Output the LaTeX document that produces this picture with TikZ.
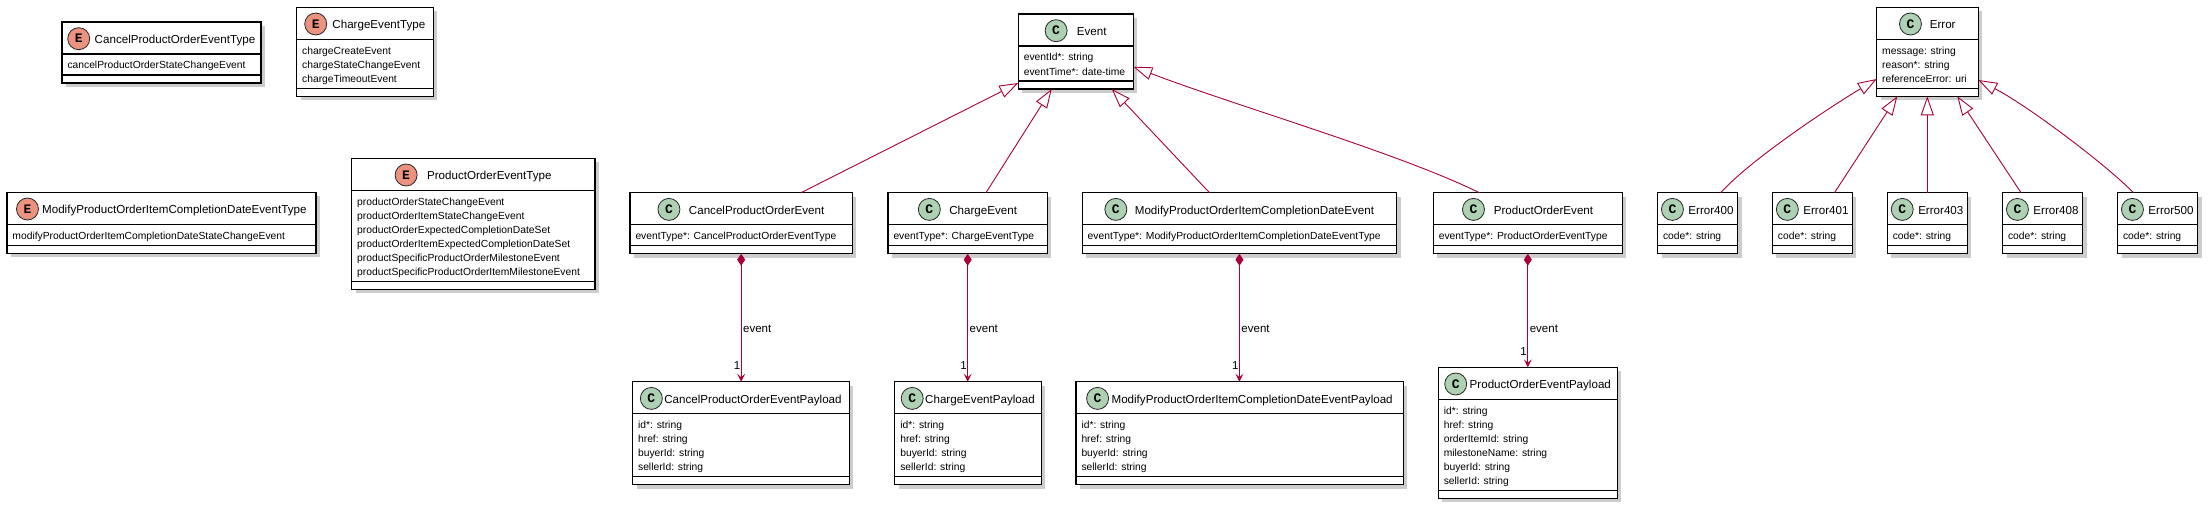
\documentclass[tikz,border=0pt]{standalone}
\usepackage{fontspec}
\setmainfont{Liberation Sans}
\newfontfamily\iconfont{Liberation Mono}
\usetikzlibrary{arrows.meta,calc}
\definecolor{umlred}{HTML}{A80036}
\definecolor{cgreen}{HTML}{ADD1B2}
\definecolor{esalmon}{HTML}{EB937F}
\tikzset{
  cls/.style={rectangle, draw=black, line width=1.2pt, fill=white, inner sep=0pt, outer sep=0pt},
  sepline/.style={draw=black, line width=1.2pt},
  shadebox/.style={fill=black, opacity=0.2},
  ttl/.style={font=\fontsize{11.6}{14}\selectfont, inner sep=0pt, outer sep=0pt},
  attr/.style={font=\fontsize{10.3}{14}\selectfont, inner sep=0pt, outer sep=0pt, anchor=base west},
  iconbase/.style={circle, draw=black!85, line width=0.8pt, minimum size=22pt, inner sep=0pt,
    font=\iconfont\bfseries\fontsize{13}{13}\selectfont},
  iconC/.style={iconbase, fill=cgreen},
  iconE/.style={iconbase, fill=esalmon},
  gen/.style={draw=umlred, line width=0.9pt, -{Triangle[length=19pt,width=13pt,fill=white]}},
  comp/.style={draw=umlred, line width=0.9pt,
    {Diamond[length=12pt,width=8pt,fill=umlred]}-{Stealth[length=8pt,width=8pt,inset=3.5pt]}},
  elabel/.style={font=\fontsize{11.5}{14}\selectfont, inner sep=0pt, outer sep=0pt, text=black},
}
% #1 name, #2 x, #3 y, #4 width, #5 number of attributes, #6 kind (C/E), #7 title, #8 attributes, #9 icon gap
\newcommand{\umlbox}[9]{%
  \pgfmathsetmacro{\bh}{47+14*#5}%
  \fill[shadebox] (#2+4,#3+4) rectangle ++(#4,\bh);
  \node[cls, anchor=north west, minimum width=#4pt, minimum height=\bh pt] (#1) at (#2,#3) {};
  \draw[sepline] ([yshift=-32pt]#1.north west) -- ([yshift=-32pt]#1.north east);
  \draw[sepline] ([yshift=8pt]#1.south west) -- ([yshift=8pt]#1.south east);
  \node[ttl, anchor=base] (#1-t) at ([xshift={(#9+11)/2*1pt}, yshift=-21.3pt]#1.north) {#7};
  \node[icon#6] (#1-i) at ([xshift=-#9pt, yshift=4.6pt]#1-t.base west) {#6};
  \foreach \x [count=\i from 0] in {#8} {
    \node[attr] at ([xshift=5.5pt, yshift={-(47+14*\i)*1pt}]#1.north west) {\x};
  }
}
\begin{document}
\begin{tikzpicture}[x=1pt, y=-1pt]
\useasboundingbox (0,0) rectangle (2210,511);
% enumerations
\umlbox{cpet}{62}{22}{199}{1}{E}{CancelProductOrderEventType}{cancelProductOrderStateChangeEvent}{16}
\umlbox{cht}{296.7}{7.3}{136.6}{3}{E}{ChargeEventType}{chargeCreateEvent, chargeStateChangeEvent, chargeTimeoutEvent}{16.7}
\umlbox{mpet}{7}{192.3}{309}{1}{E}{ModifyProductOrderItemCompletionDateEventType}{modifyProductOrderItemCompletionDateStateChangeEvent}{14.7}
\umlbox{poet}{351.7}{158.3}{243.3}{6}{E}{ProductOrderEventType}{productOrderStateChangeEvent, productOrderItemStateChangeEvent, productOrderExpectedCompletionDateSet, productOrderItemExpectedCompletionDateSet, productSpecificProductOrderMilestoneEvent, productSpecificProductOrderItemMilestoneEvent}{21}
% event classes
\umlbox{ev}{1018.3}{14}{115}{2}{C}{Event}{eventId*: string, eventTime*: date-time}{20.7}
\umlbox{cpe}{630}{192.7}{222.3}{1}{C}{CancelProductOrderEvent}{eventType*: CancelProductOrderEventType}{20}
\umlbox{che}{888}{192.7}{159.4}{1}{C}{ChargeEvent}{eventType*: ChargeEventType}{20}
\umlbox{mpe}{1082.2}{192.7}{314.5}{1}{C}{ModifyProductOrderItemCompletionDateEvent}{eventType*: ModifyProductOrderItemCompletionDateEventType}{19}
\umlbox{poe}{1433.3}{192.7}{189}{1}{C}{ProductOrderEvent}{eventType*: ProductOrderEventType}{20.4}
% payloads
\umlbox{cpp}{632.6}{381.7}{216.8}{4}{C}{CancelProductOrderEventPayload}{id*: string, href: string, buyerId: string, sellerId: string}{13}
\umlbox{chp}{894.8}{381.7}{146.4}{4}{C}{ChargeEventPayload}{id*: string, href: string, buyerId: string, sellerId: string}{13}
\umlbox{mpp}{1076}{381.7}{327.3}{4}{C}{ModifyProductOrderItemCompletionDateEventPayload}{id*: string, href: string, buyerId: string, sellerId: string}{14}
\umlbox{pop}{1438.3}{367.3}{179}{6}{C}{ProductOrderEventPayload}{id*: string, href: string, orderItemId: string, milestoneName: string, buyerId: string, sellerId: string}{14}
% errors
\umlbox{er}{1876.7}{7.3}{101.6}{3}{C}{Error}{message: string, reason*: string, referenceError: uri}{19.3}
\umlbox{e400}{1657.5}{192.7}{80}{1}{C}{Error400}{code*: string}{16}
\umlbox{e401}{1772.4}{192.7}{80}{1}{C}{Error401}{code*: string}{16}
\umlbox{e403}{1887.3}{192.7}{80}{1}{C}{Error403}{code*: string}{16}
\umlbox{e408}{2002.5}{192.7}{80}{1}{C}{Error408}{code*: string}{16}
\umlbox{e500}{2117.5}{192.7}{80}{1}{C}{Error500}{code*: string}{16}

% generalizations to Event
\draw[gen] ([xshift=59.85pt]cpe.north) -- ([yshift=6pt]ev.south west);
\draw[gen] ([xshift=18.3pt]che.north) -- ([xshift=-24.1pt]ev.south);
\draw[gen] ([xshift=-29.95pt]mpe.north) -- ([xshift=35.9pt]ev.south);
\draw[gen] ([xshift=-48.5pt]poe.north) .. controls (1399,153) and (1233,105) .. ([yshift=-15.2pt]ev.east);

% generalizations to Error
\draw[gen] ([xshift=23.2pt]e400.north) .. controls (1750,160) and (1830,107) .. ([yshift=-27.2pt]er.west);
\draw[gen] ([xshift=22.1pt]e401.north) -- ([xshift=-30.2pt]er.south);
\draw[gen] (e403.north) -- (e403.north |- er.south);
\draw[gen] ([xshift=-21.5pt]e408.north) -- ([xshift=29.8pt]er.south);
\draw[gen] ([xshift=-24.2pt]e500.north) .. controls (2110,168) and (2030,107) .. ([yshift=-28.2pt]er.east);

% compositions
\foreach \src/\dst in {cpe/cpp, che/chp, mpe/mpp, poe/pop} {
  \draw[comp] (\src.south) -- (\src.south |- \dst.north);
  \node[elabel, anchor=west] (\src-lab) at ([xshift=2pt]\src.south |- 0,329) {event};
  \node[elabel, anchor=base east] (\src-mul) at ([xshift=-1pt, yshift=12pt]\src.south |- \dst.north) {1};
}
\end{tikzpicture}
\end{document}
